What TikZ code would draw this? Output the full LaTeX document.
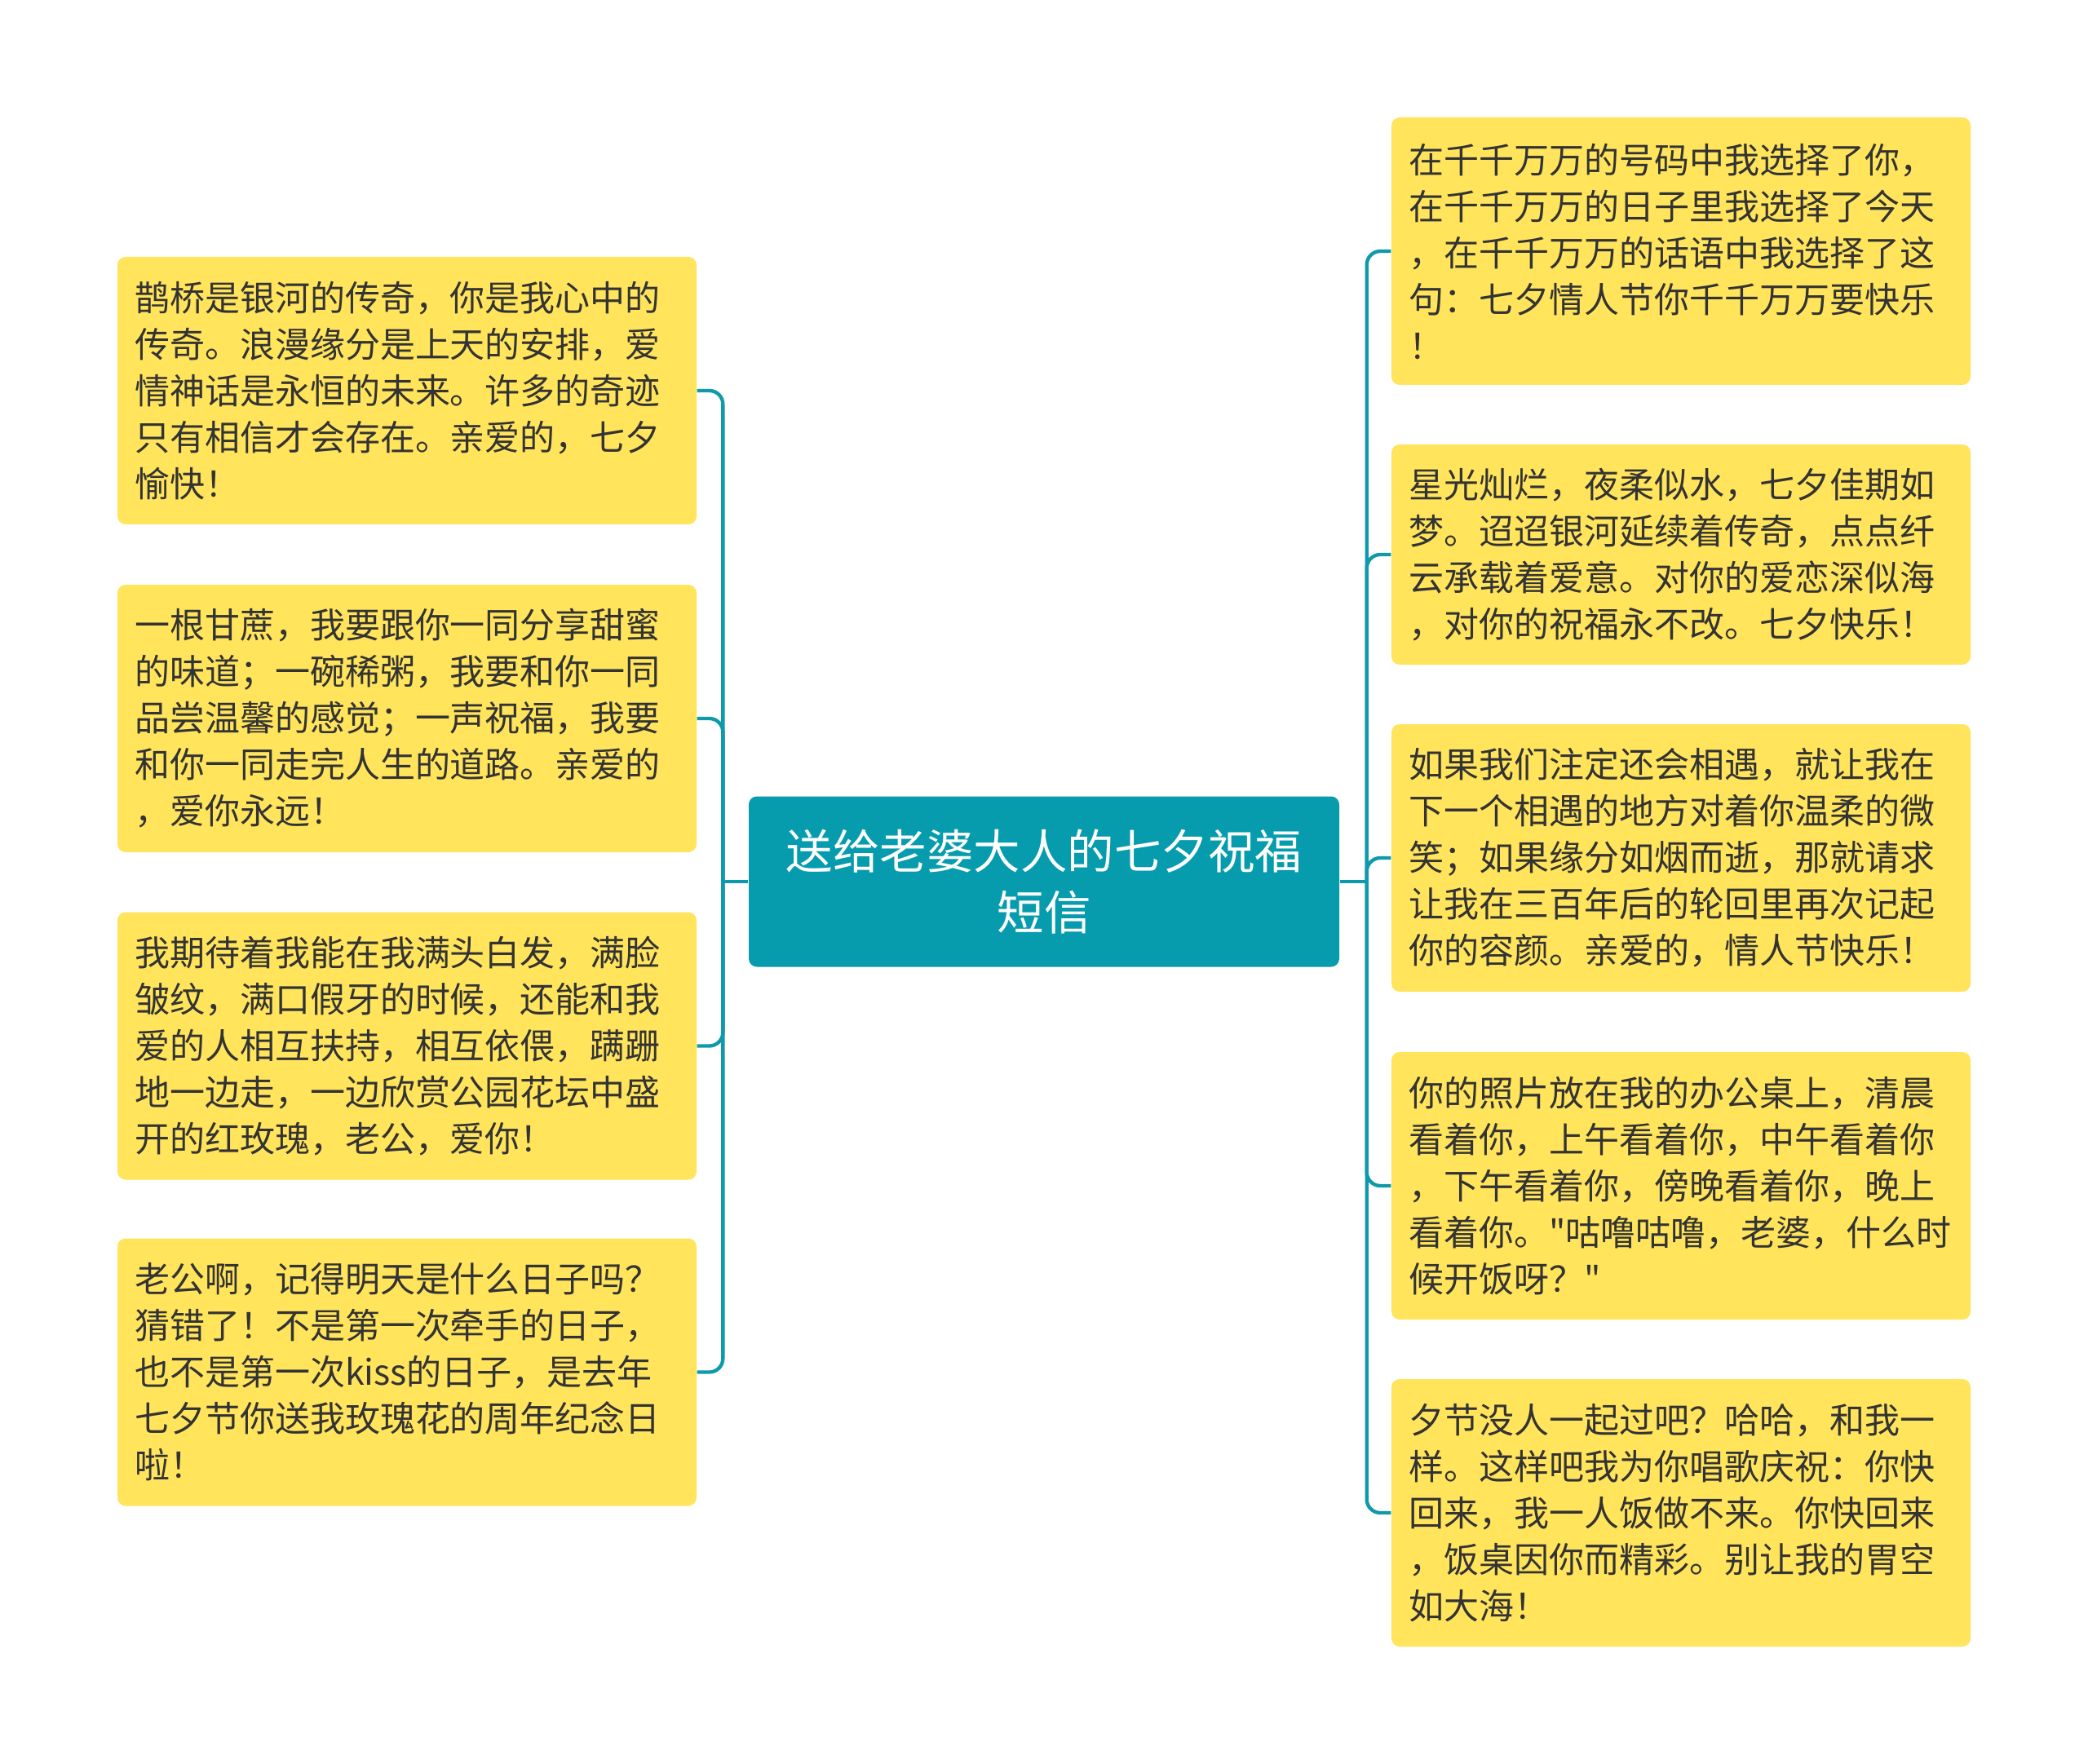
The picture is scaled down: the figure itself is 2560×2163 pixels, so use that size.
\documentclass[tikz,border=0pt]{standalone}
\usepackage{fontspec}
\newfontfamily\cjk{Noto Sans CJK SC}
\definecolor{linec}{HTML}{0E9AAA}
\definecolor{rootc}{HTML}{069CAE}
\definecolor{boxc}{HTML}{FFE45C}
\definecolor{txtc}{HTML}{333333}
\tikzset{
  leaf/.style={fill=boxc, rounded corners=3pt, inner xsep=6.3pt, inner ysep=0pt,
    text width=200.4pt, minimum width=213pt, minimum height=98.4pt, align=left,
    text=txtc, font=\cjk\fontsize{12.9pt}{17.1pt}\selectfont},
  rootbox/.style={fill=rootc, rounded corners=3pt, inner sep=0pt,
    minimum width=217.2pt, minimum height=62.7pt, align=center,
    text=white, font=\cjk\fontsize{17.25pt}{22.5pt}\selectfont},
  conn/.style={draw=linec, line width=1.3pt, rounded corners=5pt},
  stem/.style={draw=linec, line width=1.3pt}
}
\begin{document}
\begin{tikzpicture}[x=0.3pt,y=-0.3pt]
\useasboundingbox (0,0) rectangle (2560,2163);
\node[rootbox] (C) at (1280,1081) {送给老婆大人的七夕祝福\\短信};

\node[leaf] (L1) at (499,479) {鹊桥是银河的传奇，你是我心中的\\传奇。浪漫缘分是上天的安排，爱\\情神话是永恒的未来。许多的奇迹\\只有相信才会存在。亲爱的，七夕\\愉快！};
\node[leaf] (L2) at (499,881) {一根甘蔗，我要跟你一同分享甜蜜\\的味道；一碗稀粥，我要和你一同\\品尝温馨的感觉；一声祝福，我要\\和你一同走完人生的道路。亲爱的\\，爱你永远！};
\node[leaf] (L3) at (499,1282.5) {我期待着我能在我满头白发，满脸\\皱纹，满口假牙的时候，还能和我\\爱的人相互扶持，相互依偎，蹒跚\\地一边走，一边欣赏公园花坛中盛\\开的红玫瑰，老公，爱你！};
\node[leaf] (L4) at (499,1682.5) {老公啊，记得明天是什么日子吗？\\猜错了！不是第一次牵手的日子，\\也不是第一次kiss的日子，是去年\\七夕节你送我玫瑰花的周年纪念日\\啦！};

\node[leaf] (R1) at (2061,308) {在千千万万的号码中我选择了你，\\在千千万万的日子里我选择了今天\\，在千千万万的话语中我选择了这\\句：七夕情人节你千千万万要快乐\\！};
\node[leaf, minimum height=81pt] (R2) at (2061,680) {星光灿烂，夜柔似水，七夕佳期如\\梦。迢迢银河延续着传奇，点点纤\\云承载着爱意。对你的爱恋深似海\\，对你的祝福永不改。七夕快乐！};
\node[leaf] (R3) at (2061,1052) {如果我们注定还会相遇，就让我在\\下一个相遇的地方对着你温柔的微\\笑；如果缘分如烟而逝，那就请求\\让我在三百年后的轮回里再次记起\\你的容颜。亲爱的，情人节快乐！};
\node[leaf] (R4) at (2061,1454) {你的照片放在我的办公桌上，清晨\\看着你，上午看着你，中午看着你\\，下午看着你，傍晚看着你，晚上\\看着你。"咕噜咕噜，老婆，什么时\\候开饭呀？"};
\node[leaf] (R5) at (2061,1855) {夕节没人一起过吧？哈哈，和我一\\样。这样吧我为你唱歌庆祝：你快\\回来，我一人饭做不来。你快回来\\，饭桌因你而精彩。别让我的胃空\\如大海！};

\path (C.west) ++(-31,0) coordinate (lt);
\path (C.east) ++(33,0) coordinate (rt);
\draw[stem] (C.west) -- (lt);
\draw[stem] (C.east) -- (rt);
\foreach \n in {L1,L2,L3,L4} \draw[conn] (lt) |- (\n.east);
\foreach \n in {R1,R2,R3,R4,R5} \draw[conn] (rt) |- (\n.west);
\end{tikzpicture}
\end{document}
